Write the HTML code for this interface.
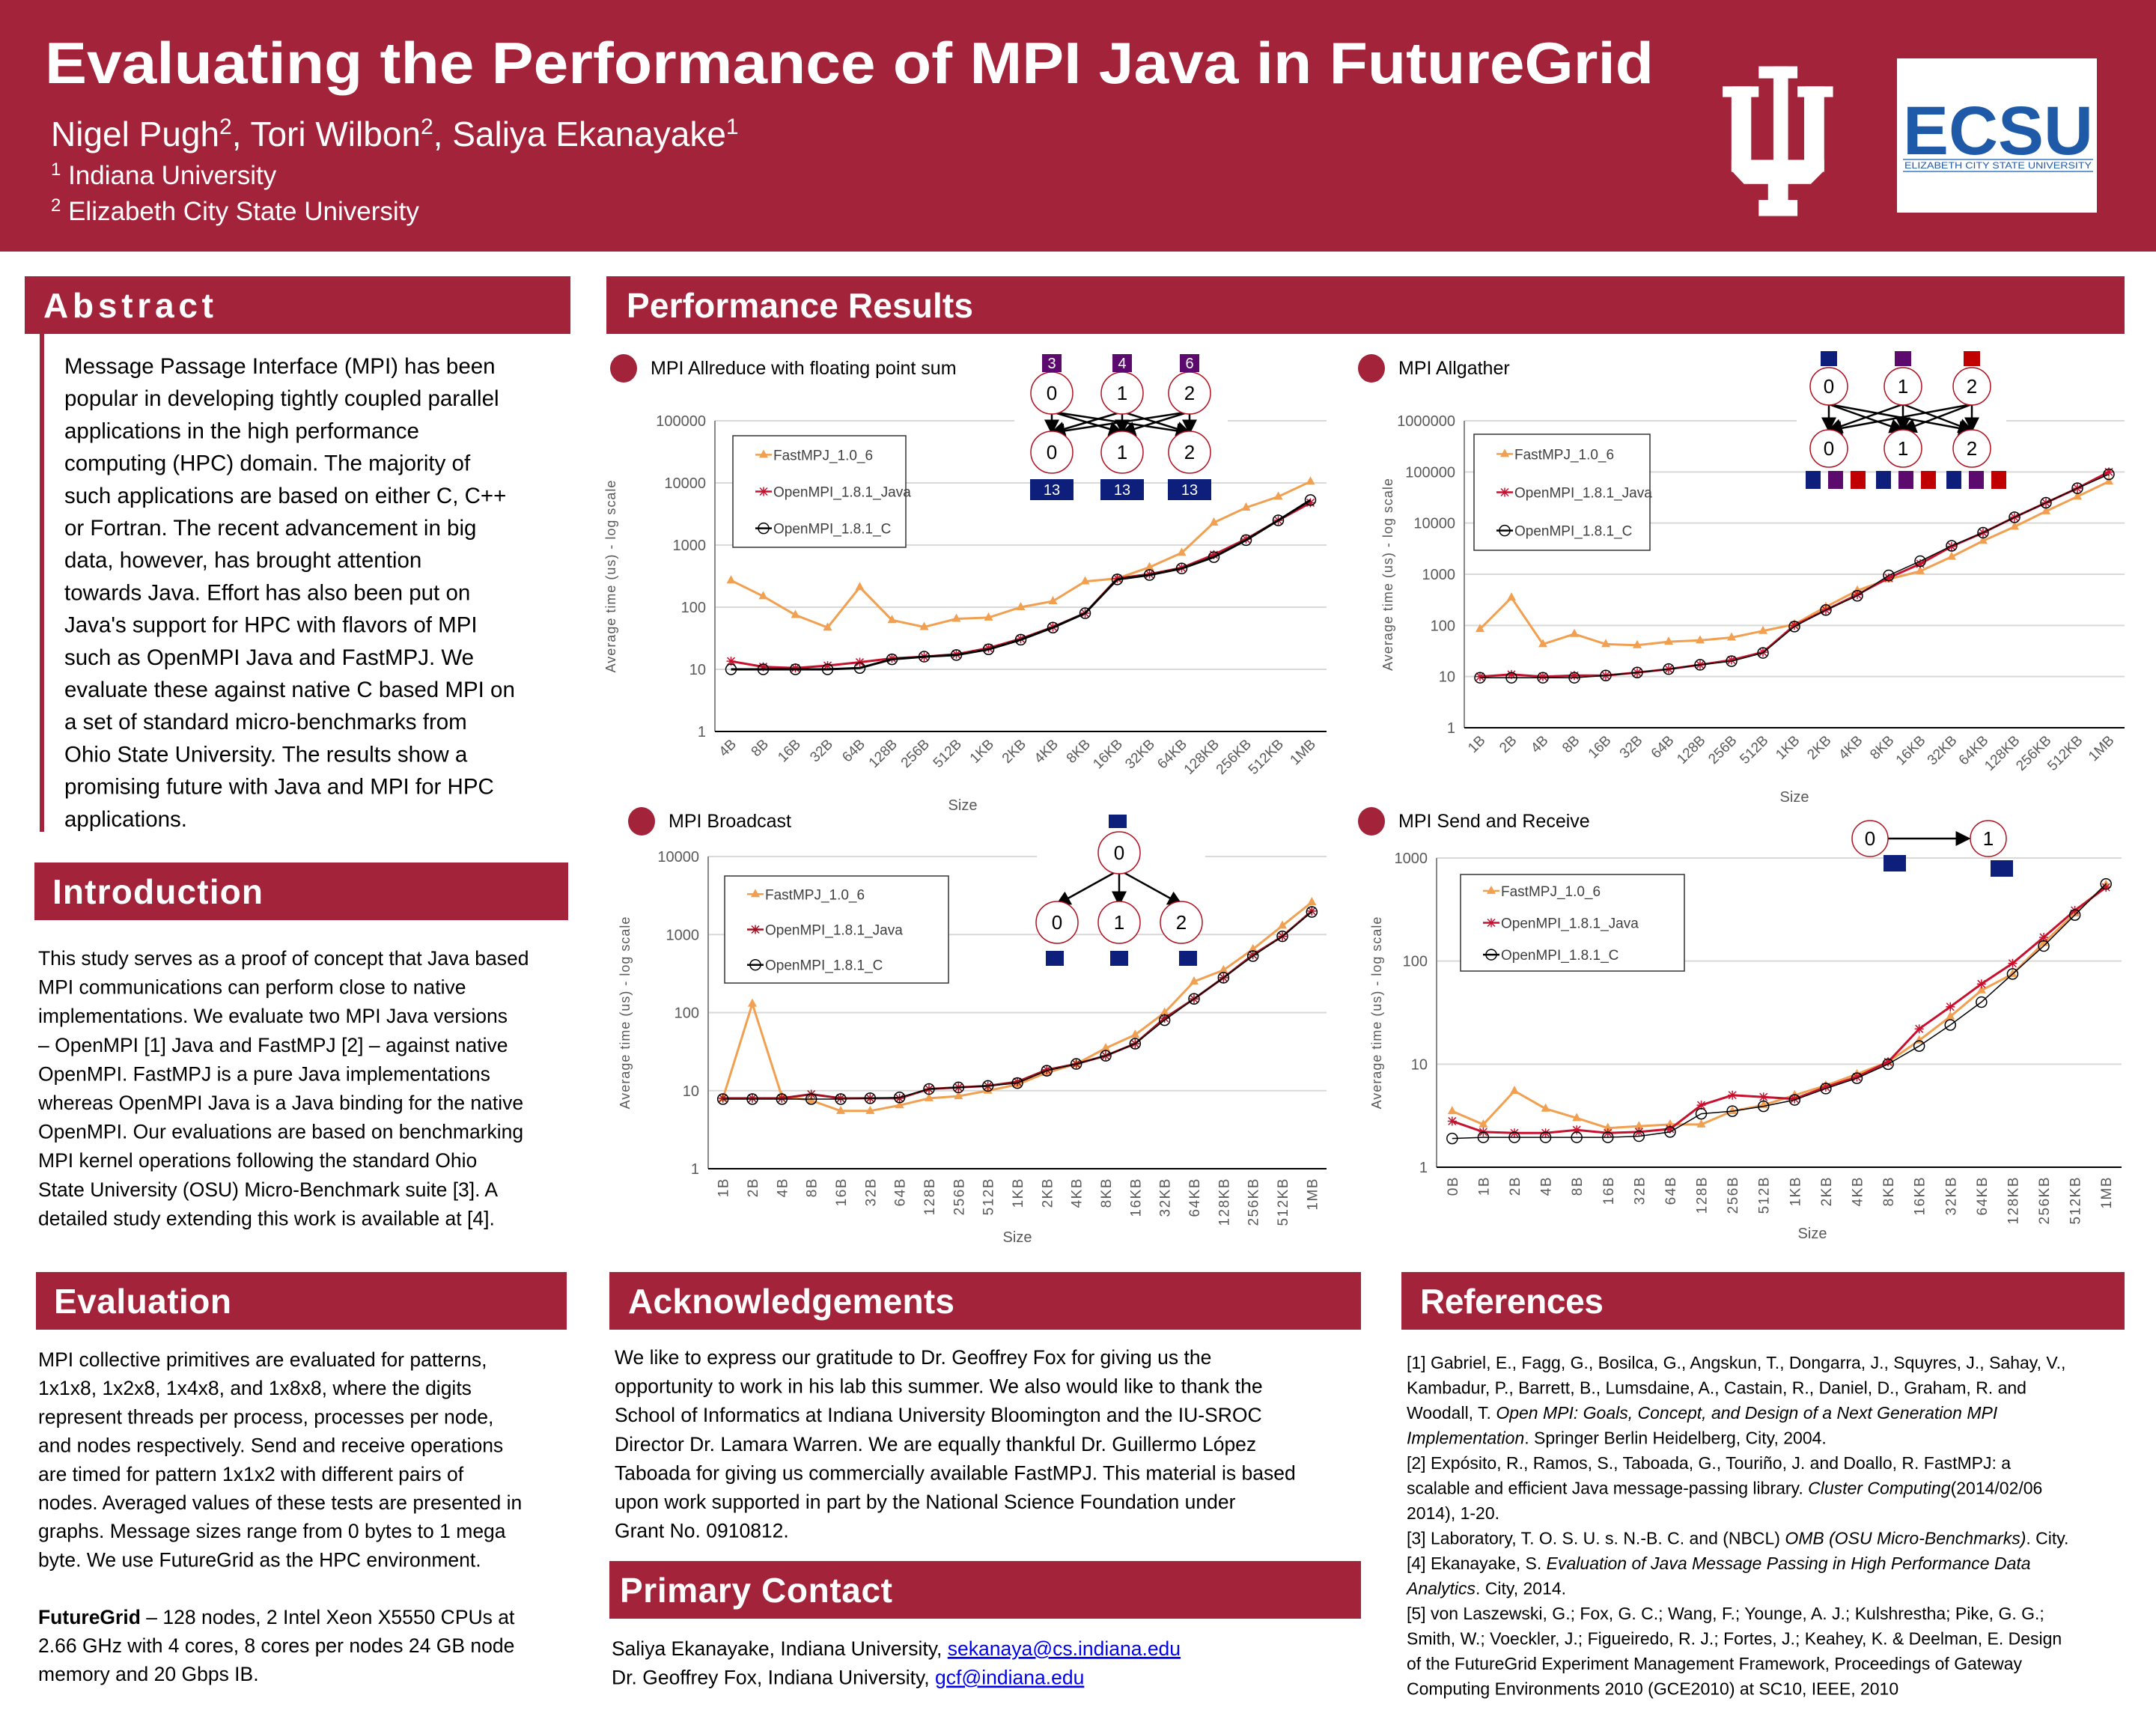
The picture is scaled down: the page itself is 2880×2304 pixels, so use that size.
<!DOCTYPE html>
<html><head><meta charset="utf-8"><style>
html,body{margin:0;padding:0;background:#fff}
svg{display:block}
text{font-family:"Liberation Sans",sans-serif}
</style></head><body>
<svg id="page" xmlns="http://www.w3.org/2000/svg" width="2880" height="2304" viewBox="0 0 2880 2304">
<rect x="0" y="0" width="2880" height="2304" fill="#fff"/>
<g>
<rect x="0" y="0" width="2880" height="336" fill="#a2233a"/>
<text x="60" y="111" font-size="78" font-weight="bold" fill="#fff" textLength="2149" lengthAdjust="spacingAndGlyphs">Evaluating the Performance of MPI Java in FutureGrid</text>
<text x="68" y="195" font-size="46" fill="#fff">Nigel Pugh<tspan font-size="30" dy="-16">2</tspan><tspan dy="16">, Tori Wilbon</tspan><tspan font-size="30" dy="-16">2</tspan><tspan dy="16">, Saliya Ekanayake</tspan><tspan font-size="30" dy="-16">1</tspan></text>
<text x="68" y="246" font-size="35" fill="#fff"><tspan font-size="24" dy="-12">1</tspan><tspan dy="12"> Indiana University</tspan></text>
<text x="68" y="294" font-size="35" fill="#fff"><tspan font-size="24" dy="-12">2</tspan><tspan dy="12"> Elizabeth City State University</tspan></text>
<g transform="translate(2260,60) scale(0.3571)" fill="#fff">
<rect x="115" y="155" width="135" height="40"/><rect x="395" y="155" width="133" height="40"/>
<rect x="250" y="80" width="145" height="45"/><rect x="305" y="80" width="55" height="500"/>
<rect x="148" y="155" width="74" height="320"/><rect x="420" y="155" width="75" height="320"/>
<polygon points="148,430 495,430 495,470 445,520 195,520 148,470"/>
<rect x="285" y="515" width="75" height="70"/><rect x="250" y="580" width="145" height="60"/>
</g>
<g>
<rect x="2534" y="78" width="267" height="206" fill="#fff"/>
<text x="2542" y="206" font-family="Liberation Serif,serif" font-size="92" font-weight="bold" fill="#1e5aa8" textLength="254" lengthAdjust="spacingAndGlyphs">ECSU</text>
<rect x="2542" y="212" width="254" height="2" fill="#6a9ad0"/>
<text x="2544" y="225" font-family="Liberation Serif,serif" font-size="12" fill="#1e5aa8" textLength="250" lengthAdjust="spacingAndGlyphs">ELIZABETH CITY STATE UNIVERSITY</text>
<rect x="2542" y="228" width="254" height="2" fill="#6a9ad0"/>
</g>
</g>
<g fill="#a2233a">
<rect x="33" y="369" width="729" height="77"/>
<rect x="810" y="369" width="2028" height="77"/>
<rect x="46" y="1152" width="713" height="77"/>
<rect x="48" y="1699" width="709" height="77"/>
<rect x="814" y="1699" width="1004" height="77"/>
<rect x="814" y="2085" width="1004" height="77"/>
<rect x="1872" y="1699" width="966" height="77"/>
<rect x="53" y="446" width="6" height="665"/>
</g>
<g fill="#fff" font-size="46" font-weight="bold">
<text x="58" y="424" textLength="227" lengthAdjust="spacing">Abstract</text>
<text x="837" y="424" textLength="463" lengthAdjust="spacing">Performance Results</text>
<text x="70" y="1207" textLength="281" lengthAdjust="spacing">Introduction</text>
<text x="72" y="1754" textLength="237" lengthAdjust="spacing">Evaluation</text>
<text x="839" y="1754" textLength="436" lengthAdjust="spacing">Acknowledgements</text>
<text x="828" y="2140" textLength="364" lengthAdjust="spacing">Primary Contact</text>
<text x="1897" y="1754" textLength="245" lengthAdjust="spacing">References</text>
</g>
<text font-size="29.5" fill="#000">
<tspan x="86" y="499">Message Passage Interface (MPI) has been</tspan>
<tspan x="86" dy="43.2">popular in developing tightly coupled parallel</tspan>
<tspan x="86" dy="43.2">applications in the high performance</tspan>
<tspan x="86" dy="43.2">computing (HPC) domain. The majority of</tspan>
<tspan x="86" dy="43.2">such applications are based on either C, C++</tspan>
<tspan x="86" dy="43.2">or Fortran. The recent advancement in big</tspan>
<tspan x="86" dy="43.2">data, however, has brought attention</tspan>
<tspan x="86" dy="43.2">towards Java. Effort has also been put on</tspan>
<tspan x="86" dy="43.2">Java's support for HPC with flavors of MPI</tspan>
<tspan x="86" dy="43.2">such as OpenMPI Java and FastMPJ. We</tspan>
<tspan x="86" dy="43.2">evaluate these against native C based MPI on</tspan>
<tspan x="86" dy="43.2">a set of standard micro-benchmarks from</tspan>
<tspan x="86" dy="43.2">Ohio State University. The results show a</tspan>
<tspan x="86" dy="43.2">promising future with Java and MPI for HPC</tspan>
<tspan x="86" dy="43.2">applications.</tspan>
</text>
<text font-size="26.5" fill="#000">
<tspan x="51" y="1289">This study serves as a proof of concept that Java based</tspan>
<tspan x="51" dy="38.6">MPI communications can perform close to native</tspan>
<tspan x="51" dy="38.6">implementations. We evaluate two MPI Java versions</tspan>
<tspan x="51" dy="38.6">– OpenMPI [1] Java and FastMPJ [2] – against native</tspan>
<tspan x="51" dy="38.6">OpenMPI. FastMPJ is a pure Java implementations</tspan>
<tspan x="51" dy="38.6">whereas OpenMPI Java is a Java binding for the native</tspan>
<tspan x="51" dy="38.6">OpenMPI. Our evaluations are based on benchmarking</tspan>
<tspan x="51" dy="38.6">MPI kernel operations following the standard Ohio</tspan>
<tspan x="51" dy="38.6">State University (OSU) Micro-Benchmark suite [3]. A</tspan>
<tspan x="51" dy="38.6">detailed study extending this work is available at [4].</tspan>
</text>
<text font-size="26.5" fill="#000">
<tspan x="51" y="1825">MPI collective primitives are evaluated for patterns,</tspan>
<tspan x="51" dy="38.2">1x1x8, 1x2x8, 1x4x8, and 1x8x8, where the digits</tspan>
<tspan x="51" dy="38.2">represent threads per process, processes per node,</tspan>
<tspan x="51" dy="38.2">and nodes respectively. Send and receive operations</tspan>
<tspan x="51" dy="38.2">are timed for pattern 1x1x2 with different pairs of</tspan>
<tspan x="51" dy="38.2">nodes. Averaged values of these tests are presented in</tspan>
<tspan x="51" dy="38.2">graphs. Message sizes range from 0 bytes to 1 mega</tspan>
<tspan x="51" dy="38.2">byte. We use FutureGrid as the HPC environment.</tspan>
<tspan x="51" dy="76.4"><tspan font-weight="bold">FutureGrid</tspan> – 128 nodes, 2 Intel Xeon X5550 CPUs at</tspan>
<tspan x="51" dy="38.2">2.66 GHz with 4 cores, 8 cores per nodes 24 GB node</tspan>
<tspan x="51" dy="38.2">memory and 20 Gbps IB.</tspan>
</text>
<text font-size="26.5" fill="#000">
<tspan x="821" y="1822">We like to express our gratitude to Dr. Geoffrey Fox for giving us the</tspan>
<tspan x="821" dy="38.6">opportunity to work in his lab this summer. We also would like to thank the</tspan>
<tspan x="821" dy="38.6">School of Informatics at Indiana University Bloomington and the IU-SROC</tspan>
<tspan x="821" dy="38.6">Director Dr. Lamara Warren. We are equally thankful Dr. Guillermo López</tspan>
<tspan x="821" dy="38.6">Taboada for giving us commercially available FastMPJ. This material is based</tspan>
<tspan x="821" dy="38.6">upon work supported in part by the National Science Foundation under</tspan>
<tspan x="821" dy="38.6">Grant No. 0910812.</tspan>
</text>
<text font-size="26.5" fill="#000">
<tspan x="817" y="2211">Saliya Ekanayake, Indiana University, <tspan fill="#0000ee" text-decoration="underline">sekanaya@cs.indiana.edu</tspan></tspan>
<tspan x="817" dy="38.6">Dr. Geoffrey Fox, Indiana University, <tspan fill="#0000ee" text-decoration="underline">gcf@indiana.edu</tspan></tspan>
</text>
<text font-size="23" fill="#000">
<tspan x="1879" y="1828">[1] Gabriel, E., Fagg, G., Bosilca, G., Angskun, T., Dongarra, J., Squyres, J., Sahay, V.,</tspan>
<tspan x="1879" dy="33.5">Kambadur, P., Barrett, B., Lumsdaine, A., Castain, R., Daniel, D., Graham, R. and</tspan>
<tspan x="1879" dy="33.5">Woodall, T. <tspan font-style="italic">Open MPI: Goals, Concept, and Design of a Next Generation MPI</tspan></tspan>
<tspan x="1879" dy="33.5"><tspan font-style="italic">Implementation</tspan>. Springer Berlin Heidelberg, City, 2004.</tspan>
<tspan x="1879" dy="33.5">[2] Expósito, R., Ramos, S., Taboada, G., Touriño, J. and Doallo, R. FastMPJ: a</tspan>
<tspan x="1879" dy="33.5">scalable and efficient Java message-passing library. <tspan font-style="italic">Cluster Computing</tspan>(2014/02/06</tspan>
<tspan x="1879" dy="33.5">2014), 1-20.</tspan>
<tspan x="1879" dy="33.5">[3] Laboratory, T. O. S. U. s. N.-B. C. and (NBCL) <tspan font-style="italic">OMB (OSU Micro-Benchmarks)</tspan>. City.</tspan>
<tspan x="1879" dy="33.5">[4] Ekanayake, S. <tspan font-style="italic">Evaluation of Java Message Passing in High Performance Data</tspan></tspan>
<tspan x="1879" dy="33.5"><tspan font-style="italic">Analytics</tspan>. City, 2014.</tspan>
<tspan x="1879" dy="33.5">[5] von Laszewski, G.; Fox, G. C.; Wang, F.; Younge, A. J.; Kulshrestha; Pike, G. G.;</tspan>
<tspan x="1879" dy="33.5">Smith, W.; Voeckler, J.; Figueiredo, R. J.; Fortes, J.; Keahey, K. &amp; Deelman, E. Design</tspan>
<tspan x="1879" dy="33.5">of the FutureGrid Experiment Management Framework, Proceedings of Gateway</tspan>
<tspan x="1879" dy="33.5">Computing Environments 2010 (GCE2010) at SC10, IEEE, 2010</tspan>
</text>
<g id="chart1"></g>
<g id="chart2"></g>
<g id="chart3"></g>
<g id="chart4"></g>
<g id="diagrams"></g>
</svg>
<script>
const seriesNames = ["FastMPJ_1.0_6", "OpenMPI_1.8.1_Java", "OpenMPI_1.8.1_C"];

const cats1 = ["4B","8B","16B","32B","64B","128B","256B","512B","1KB","2KB","4KB","8KB","16KB","32KB","64KB","128KB","256KB","512KB","1MB"];
const fast1 = [270,150,75,47,210,62,48,65,68,100,125,260,290,440,750,2300,4000,6000,10500];
const java1 = [13.5,11,10.5,11.5,13,15,16,17.5,22,31,48,80,290,340,430,700,1250,2500,4800];
const c1 = [10,10,10,10,10.5,14.5,16,17,21,30,47,80,280,330,420,640,1200,2500,5300];
const ticks1 = ["1","10","100","1000","10000","100000"];

const cats2 = ["1B","2B","4B","8B","16B","32B","64B","128B","256B","512B","1KB","2KB","4KB","8KB","16KB","32KB","64KB","128KB","256KB","512KB","1MB"];
const fast2 = [85,350,43,68,43,41,48,51,58,78,105,230,480,800,1150,2200,4500,8500,17000,33000,65000];
const java2 = [10,11,10,10.5,10.5,12,14,17,21,30,100,200,400,850,1600,3500,6500,13000,25000,48000,100000];
const c2 = [9.5,9.5,9.5,9.5,10.5,12,14,17,20,29,95,200,380,950,1800,3600,6500,13000,25000,48000,90000];
const ticks2 = ["1","10","100","1000","10000","100000","1000000"];

const cats3 = ["1B","2B","4B","8B","16B","32B","64B","128B","256B","512B","1KB","2KB","4KB","8KB","16KB","32KB","64KB","128KB","256KB","512KB","1MB"];
const fast3 = [8,130,8.5,7.5,5.5,5.5,6.5,8,8.5,10,12,17,22,35,52,100,250,350,650,1300,2600];
const java3 = [8,8,8,9,8,8,8,10.5,11,11.5,13,18.5,22,28,40,85,150,280,550,950,2000];
const c3 = [7.8,7.8,7.8,7.8,7.8,8,8.2,10.5,11,11.5,12.5,18,22,28,40,80,150,280,530,950,1950];
const ticks3 = ["1","10","100","1000","10000"];

const cats4 = ["0B","1B","2B","4B","8B","16B","32B","64B","128B","256B","512B","1KB","2KB","4KB","8KB","16KB","32KB","64KB","128KB","256KB","512KB","1MB"];
const fast4 = [3.5,2.6,5.5,3.7,3,2.4,2.5,2.6,2.6,3.5,4,5,6.2,8,10.5,17,29,52,75,150,290,550];
const java4 = [2.8,2.2,2.15,2.15,2.3,2.15,2.2,2.35,4,5,4.8,4.6,6,7.5,10.5,22,36,60,95,170,310,520];
const c4 = [1.9,1.95,1.95,1.95,1.95,1.95,2,2.2,3.3,3.5,3.9,4.5,5.8,7.3,10,15,24,40,75,140,280,560];
const ticks4 = ["1","10","100","1000"];

const NS = "http://www.w3.org/2000/svg";
function mk(tag, attrs, parent){
  const e = document.createElementNS(NS, tag);
  for (const k in attrs) e.setAttribute(k, attrs[k]);
  parent.appendChild(e);
  return e;
}
function drawMarker(parent, type, x, y, col){
  let e;
  if (type === "tri") e = mk("path", {d: `M${x} ${y - 7} L${x + 6} ${y + 4} L${x - 6} ${y + 4}Z`, fill: col}, parent);
  else if (type === "star") e = mk("path", {d: `M${x - 6} ${y}H${x + 6}M${x} ${y - 6}V${y + 6}M${x - 5} ${y - 5}L${x + 5} ${y + 5}M${x - 5} ${y + 5}L${x + 5} ${y - 5}`, stroke: col, "stroke-width": 1.5, fill: "none"}, parent);
  else e = mk("circle", {cx: x, cy: y, r: 7, fill: "none", stroke: col, "stroke-width": 1.5}, parent);
  return e;
}
function drawChart(g, cfg, cats, fast, java, cc, ticks){
  const n = cats.length;
  const lmax = ticks.length - 1;
  const xS = i => cfg.left + (i + 0.5) * (cfg.right - cfg.left) / n;
  const yS = v => cfg.bottom - Math.log10(v) / lmax * (cfg.bottom - cfg.top);
  const dot = mk("ellipse", {cx: cfg.tx - 36, cy: cfg.ty - 8, rx: 18, ry: 19, fill: "#a2233a"}, g);
  
  
  const tt = mk("text", {x: cfg.tx, y: cfg.ty, "font-size": 25, fill: "#000"}, g);
  tt.textContent = cfg.title;
  
  
  ticks.forEach((t, k) => {
    const y = yS(Math.pow(10, k));
    if (k > 0) {
      const gl = mk("line", {x1: cfg.left, x2: cfg.right, y1: y, y2: y, stroke: "#d9d9d9", "stroke-width": 2}, g);
      
      
    }
    const tl = mk("text", {x: cfg.left - 12, y: y + 7, "font-size": 20, fill: "#595959", "text-anchor": "end"}, g);
    tl.textContent = t;
    
    
  });
  const ax = mk("line", {x1: cfg.left, x2: cfg.left, y1: cfg.top, y2: cfg.bottom, stroke: "#888", "stroke-width": 2}, g);
  
  
  const bx = mk("line", {x1: cfg.left, x2: cfg.right, y1: cfg.bottom, y2: cfg.bottom, stroke: "#000", "stroke-width": 2}, g);
  
  
  cats.forEach((c, i) => {
    const x = xS(i);
    const tr = cfg.rot === 45 ? `translate(${x + 8},${cfg.bottom + 18}) rotate(-45)` : `translate(${x + 7},${cfg.bottom + 12}) rotate(-90)`;
    const xl = mk("text", {transform: tr, "font-size": 19, fill: "#595959", "text-anchor": "end", "letter-spacing": cfg.rot === 45 ? 0 : 1.5}, g);
    xl.textContent = c;
    
    
  });
  const yt = mk("text", {transform: `translate(${cfg.ylx},${(cfg.top + cfg.bottom) / 2}) rotate(-90)`, "font-size": 18, fill: "#595959", "text-anchor": "middle", "letter-spacing": 1}, g);
  yt.textContent = "Average time (us) - log scale";
  
  
  const xt = mk("text", {x: cfg.sx, y: cfg.sy, "font-size": 20, fill: "#595959", "text-anchor": "middle"}, g);
  xt.textContent = "Size";
  
  
  const styles = [
    {col: "#f0a050", w: 3, m: "tri"},
    {col: cfg.javaCol || "#c8102e", w: 3, m: "star"},
    {col: "#000", w: cfg.cw || 1.5, m: "circ"}
  ];
  [fast, java, cc].forEach((vals, s) => {
    const st = styles[s];
    const sg = mk("g", {}, g);
    
    
    const d = vals.map((v, i) => (i ? "L" : "M") + xS(i).toFixed(1) + " " + yS(v).toFixed(1)).join(" ");
    const ln = mk("path", {d: d, fill: "none", stroke: st.col, "stroke-width": st.w}, sg);
    
    
    vals.forEach((v, i) => {
      const m = drawMarker(sg, st.m, xS(i), yS(v), st.col);
      
      
    });
  });
  const L = cfg.leg;
  const lg = mk("g", {}, g);
  
  
  mk("rect", {x: L.x, y: L.y, width: L.w, height: L.h, fill: "#fff", stroke: "#333", "stroke-width": 1.5}, lg);
  [0.17, 0.5, 0.83].forEach((f, s) => {
    const y = L.y + L.h * f;
    const st = styles[s];
    const le = mk("g", {}, lg);
    
    
    mk("line", {x1: L.x + 30, x2: L.x + 52, y1: y, y2: y, stroke: st.col, "stroke-width": 2.5}, le);
    drawMarker(le, st.m, L.x + 41, y, st.col);
    const lt = mk("text", {x: L.x + 54, y: y + 7, "font-size": 19, fill: "#404040"}, le);
    lt.textContent = seriesNames[s];
  });
}

drawChart(document.getElementById("chart1"),
  {title: "MPI Allreduce with floating point sum", left: 955, right: 1772, top: 562, bottom: 977, rot: 45, tx: 869, ty: 500, ylx: 822, sx: 1286, sy: 1082, cw: 3, leg: {x: 979, y: 582, w: 231, h: 149}},
  cats1, fast1, java1, c1, ticks1);
drawChart(document.getElementById("chart2"),
  {title: "MPI Allgather", left: 1956, right: 2838, top: 562, bottom: 972, rot: 45, tx: 1868, ty: 500, ylx: 1860, sx: 2397, sy: 1071, leg: {x: 1969, y: 580, w: 235, h: 155}},
  cats2, fast2, java2, c2, ticks2);
drawChart(document.getElementById("chart3"),
  {title: "MPI Broadcast", left: 946, right: 1772, top: 1144, bottom: 1561, rot: 90, tx: 893, ty: 1105, ylx: 841, sx: 1359, sy: 1659, javaCol: "#a01020", leg: {x: 968, y: 1170, w: 299, h: 143}},
  cats3, fast3, java3, c3, ticks3);
drawChart(document.getElementById("chart4"),
  {title: "MPI Send and Receive", left: 1919, right: 2834, top: 1146, bottom: 1559, rot: 90, tx: 1868, ty: 1105, ylx: 1845, sx: 2421, sy: 1654, leg: {x: 1951, y: 1168, w: 299, h: 129}},
  cats4, fast4, java4, c4, ticks4);

const dg = document.getElementById("diagrams");
mk("defs", {}, dg).innerHTML = '<marker id="ah" markerWidth="8" markerHeight="8" refX="7" refY="4" orient="auto"><path d="M0 0L8 4L0 8Z" fill="#000"/></marker>';
function node(x, y, r, label){
  const gg = mk("g", {}, dg);
  
  
  mk("circle", {cx: x, cy: y, r: r, fill: "#fff", stroke: "#b01020", "stroke-width": 1.5}, gg);
  const t = mk("text", {x: x, y: y + 9, "font-size": 26, "text-anchor": "middle", fill: "#000"}, gg);
  t.textContent = label;
}
function arrow(x1, y1, x2, y2){
  const a = mk("line", {x1: x1, y1: y1, x2: x2, y2: y2, stroke: "#000", "stroke-width": 2.5, "marker-end": "url(#ah)"}, dg);
  
  
}
function box(x, y, w, h, col, label){
  const b = mk("rect", {x: x - w / 2, y: y - h / 2, width: w, height: h, fill: col}, dg);
  
  
  if (label) {
    const t = mk("text", {x: x, y: y + 7, "font-size": 20, "text-anchor": "middle", fill: "#fff"}, dg);
    t.textContent = label;
  }
}
const NAVY = "#0d1f7a", PURP = "#5c0a6e", RED = "#c00000";
mk("rect", {x: 1355, y: 545, width: 285, height: 30, fill: "#fff"}, dg);
const arX = [1405, 1499, 1589];
arX.forEach((x1) => arX.forEach((x2) => arrow(x1, 550, x2, 578)));
arX.forEach((x, i) => { node(x, 525, 28, String(i)); node(x, 604, 28, String(i)); });
["3", "4", "6"].forEach((l, i) => box(arX[i], 485, 26, 24, PURP, l));
arX.forEach((x) => box(x, 654, 58, 28, NAVY, "13"));
mk("rect", {x: 2400, y: 545, width: 280, height: 80, fill: "#fff"}, dg);
const agX = [2443, 2542, 2634];
agX.forEach((x1) => agX.forEach((x2) => arrow(x1, 540, x2, 575)));
agX.forEach((x, i) => { node(x, 516, 25, String(i)); node(x, 599, 25, String(i)); });
[NAVY, PURP, RED].forEach((c, i) => box(agX[i], 479, 22, 20, c));
for (let k = 0; k < 9; k++) box(2422 + k * 30 + Math.floor(k / 3) * 4, 641, 20, 24, [NAVY, PURP, RED][k % 3]);
mk("rect", {x: 1385, y: 1136, width: 225, height: 20, fill: "#fff"}, dg);
box(1493, 1097, 24, 18, NAVY);
[1412, 1495, 1578].forEach((x) => arrow(1495, 1162, x, 1208));
node(1495, 1139, 28, "0");
[1412, 1495, 1578].forEach((x, i) => node(x, 1232, 28, String(i)));
[1409, 1495, 1587].forEach((x) => box(x, 1280, 24, 20, NAVY));
arrow(2522, 1120, 2630, 1120);
node(2498, 1120, 24, "0"); node(2656, 1120, 24, "1");
box(2531, 1153, 30, 22, NAVY); box(2674, 1160, 30, 22, NAVY);
</script>
</body></html>
